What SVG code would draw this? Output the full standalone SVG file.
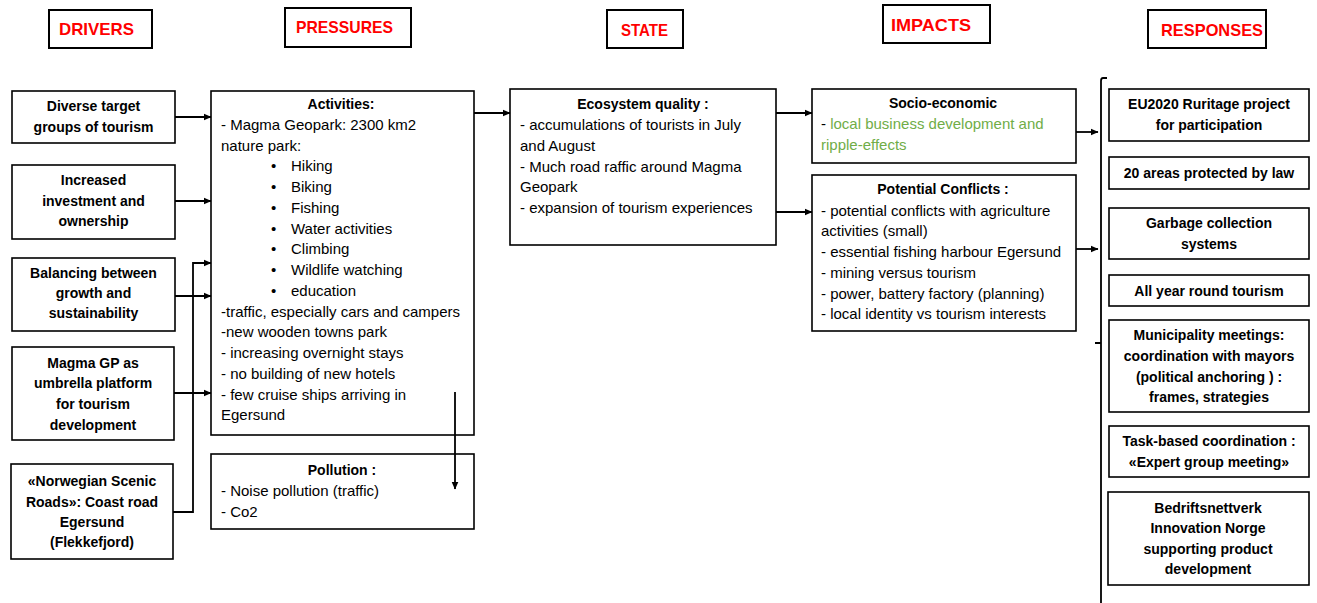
<svg xmlns="http://www.w3.org/2000/svg" width="1317" height="603" viewBox="0 0 1317 603">
<style>
.box{fill:#fff;stroke:#000;stroke-width:1.6}
.hdr{fill:#fff;stroke:#000;stroke-width:2}
.ht{font-family:"Liberation Sans",Arial,sans-serif;font-weight:bold;font-size:17px;fill:#f00}
.b{font-family:"Liberation Sans",Arial,sans-serif;font-weight:bold;font-size:14px;fill:#000;text-anchor:middle}
.t{font-family:"Liberation Sans",Arial,sans-serif;font-size:15px;fill:#000}
.g{fill:#70ad47}
.ln{fill:none;stroke:#000;stroke-width:1.8}
</style>
<defs>
<marker id="ah" markerWidth="8" markerHeight="8" refX="7.5" refY="4" orient="auto" markerUnits="userSpaceOnUse">
<path d="M0,0.5 L8,4 L0,7.5z" fill="#000"/>
</marker>
</defs>
<rect width="1317" height="603" fill="#fff"/>

<!-- column headers -->
<g id="hdr-drivers"><rect class="hdr" x="49" y="10" width="103" height="38"/><text class="ht" x="59" y="35" textLength="75" lengthAdjust="spacingAndGlyphs">DRIVERS</text></g>
<g id="hdr-pressures"><rect class="hdr" x="285" y="8" width="126" height="39"/><text class="ht" x="296" y="33" textLength="97" lengthAdjust="spacingAndGlyphs">PRESSURES</text></g>
<g id="hdr-state"><rect class="hdr" x="607" y="10" width="76" height="38"/><text class="ht" x="621" y="36" textLength="47" lengthAdjust="spacingAndGlyphs">STATE</text></g>
<g id="hdr-impacts"><rect class="hdr" x="883" y="5" width="107" height="38"/><text class="ht" x="891" y="31" textLength="80" lengthAdjust="spacingAndGlyphs">IMPACTS</text></g>
<g id="hdr-responses"><rect class="hdr" x="1148" y="10" width="118" height="38"/><text class="ht" x="1161" y="36" textLength="102" lengthAdjust="spacingAndGlyphs">RESPONSES</text></g>

<!-- drivers -->
<g id="drv-target-groups"><rect class="box" x="12" y="91" width="163" height="52"/>
<text class="b" x="93.5" y="111">Diverse target</text><text class="b" x="93.5" y="132">groups of tourism</text></g>
<g id="drv-investment"><rect class="box" x="12" y="165" width="163" height="74"/>
<text class="b" x="93.5" y="185">Increased</text><text class="b" x="93.5" y="206">investment and</text><text class="b" x="93.5" y="226">ownership</text></g>
<g id="drv-balancing"><rect class="box" x="12" y="258" width="163" height="73"/>
<text class="b" x="93.5" y="278">Balancing between</text><text class="b" x="93.5" y="298">growth and</text><text class="b" x="93.5" y="318">sustainability</text></g>
<g id="drv-magma"><rect class="box" x="12" y="347" width="162" height="93"/>
<text class="b" x="93" y="368">Magma GP as</text><text class="b" x="93" y="388">umbrella platform</text><text class="b" x="93" y="409">for tourism</text><text class="b" x="93" y="430">development</text></g>
<g id="drv-scenic-roads"><rect class="box" x="11" y="464" width="162" height="95"/>
<text class="b" x="92" y="486">«Norwegian Scenic</text><text class="b" x="92" y="507">Roads»: Coast road</text><text class="b" x="92" y="527">Egersund</text><text class="b" x="92" y="547">(Flekkefjord)</text></g>

<!-- pressures -->
<g id="prs-activities"><rect class="box" x="211" y="91" width="263" height="344"/>
<text class="b" x="341" y="109">Activities:</text>
<text class="t" x="221" y="130">- Magma Geopark: 2300 km2</text>
<text class="t" x="221" y="150.5">nature park:</text>
<g class="t">
<text x="271" y="171.2">•</text><text x="291" y="171.2">Hiking</text>
<text x="271" y="192">•</text><text x="291" y="192">Biking</text>
<text x="271" y="212.7">•</text><text x="291" y="212.7">Fishing</text>
<text x="271" y="233.5">•</text><text x="291" y="233.5">Water activities</text>
<text x="271" y="254.2">•</text><text x="291" y="254.2">Climbing</text>
<text x="271" y="275">•</text><text x="291" y="275">Wildlife watching</text>
<text x="271" y="295.7">•</text><text x="291" y="295.7">education</text>
</g>
<text class="t" x="221" y="316.5">-traffic, especially cars and campers</text>
<text class="t" x="221" y="337.2">-new wooden towns park</text>
<text class="t" x="221" y="358">- increasing overnight stays</text>
<text class="t" x="221" y="378.7">- no building of new hotels</text>
<text class="t" x="221" y="399.5">- few cruise ships arriving in</text>
<text class="t" x="221" y="420.2">Egersund</text></g>
<g id="prs-pollution"><rect class="box" x="211" y="454" width="263" height="75"/>
<text class="b" x="342" y="475">Pollution :</text>
<text class="t" x="221" y="496">- Noise pollution (traffic)</text>
<text class="t" x="221" y="516.7">- Co2</text></g>

<!-- state -->
<g id="st-ecosystem"><rect class="box" x="510" y="89" width="266" height="156"/>
<text class="b" x="643" y="109">Ecosystem quality :</text>
<text class="t" x="520" y="130">- accumulations of tourists in July</text>
<text class="t" x="520" y="150.7">and August</text>
<text class="t" x="520" y="171.5">- Much road raffic around Magma</text>
<text class="t" x="520" y="192.2">Geopark</text>
<text class="t" x="520" y="213">- expansion of tourism experiences</text></g>

<!-- impacts -->
<g id="imp-socio"><rect class="box" x="812" y="89" width="264" height="74"/>
<text class="b" x="943" y="108">Socio-economic</text>
<text class="t" x="821" y="129">- <tspan class="g">local business development and</tspan></text>
<text class="t g" x="821" y="150">ripple-effects</text></g>
<g id="imp-conflicts"><rect class="box" x="812" y="175" width="264" height="156"/>
<text class="b" x="943" y="194">Potential Conflicts :</text>
<text class="t" x="821" y="215.5">- potential conflicts with agriculture</text>
<text class="t" x="821" y="236.2">activities (small)</text>
<text class="t" x="821" y="257">- essential fishing harbour Egersund</text>
<text class="t" x="821" y="277.7">- mining  versus tourism</text>
<text class="t" x="821" y="298.5">- power, battery factory (planning)</text>
<text class="t" x="821" y="319.2">- local identity vs tourism interests</text></g>

<!-- responses -->
<g id="rsp-eu2020"><rect class="box" x="1109" y="89" width="200" height="52"/>
<text class="b" x="1209" y="109">EU2020 Ruritage project</text><text class="b" x="1209" y="130">for participation</text></g>
<g id="rsp-protected"><rect class="box" x="1109" y="157" width="200" height="32"/>
<text class="b" x="1209" y="178">20 areas protected by law</text></g>
<g id="rsp-garbage"><rect class="box" x="1109" y="208" width="200" height="51"/>
<text class="b" x="1209" y="228">Garbage collection</text><text class="b" x="1209" y="249">systems</text></g>
<g id="rsp-all-year"><rect class="box" x="1109" y="275" width="200" height="31"/>
<text class="b" x="1209" y="296">All year round tourism</text></g>
<g id="rsp-municipality"><rect class="box" x="1109" y="320" width="200" height="92"/>
<text class="b" x="1209" y="340">Municipality  meetings:</text><text class="b" x="1209" y="361">coordination with mayors</text><text class="b" x="1209" y="382">(political anchoring ) :</text><text class="b" x="1209" y="402">frames, strategies</text></g>
<g id="rsp-task-based"><rect class="box" x="1109" y="426" width="200" height="51"/>
<text class="b" x="1209" y="446">Task-based coordination :</text><text class="b" x="1209" y="467">«Expert group meeting»</text></g>
<g id="rsp-bedriftsnettverk"><rect class="box" x="1108" y="492" width="201" height="93"/>
<text class="b" x="1208" y="513">Bedriftsnettverk</text><text class="b" x="1208" y="533">Innovation Norge</text><text class="b" x="1208" y="554">supporting product</text><text class="b" x="1208" y="574">development</text></g>

<!-- connectors -->
<g id="connectors" class="ln">
<line x1="175" y1="117" x2="211" y2="117" marker-end="url(#ah)"/>
<line x1="175" y1="201" x2="211" y2="201" marker-end="url(#ah)"/>
<line x1="175" y1="296" x2="211" y2="296" marker-end="url(#ah)"/>
<line x1="174" y1="393" x2="211" y2="393" marker-end="url(#ah)"/>
<polyline points="173,512 193,512 193,263 211,263" marker-end="url(#ah)"/>
<line x1="474" y1="113" x2="510" y2="113" marker-end="url(#ah)"/>
<line x1="455" y1="392" x2="455" y2="489" marker-end="url(#ah)"/>
<line x1="776" y1="113" x2="812" y2="113" marker-end="url(#ah)"/>
<line x1="776" y1="212" x2="812" y2="212" marker-end="url(#ah)"/>
<line x1="1076" y1="132" x2="1098" y2="132" marker-end="url(#ah)"/>
<line x1="1076" y1="249" x2="1098" y2="249" marker-end="url(#ah)"/>
<path d="M1107,78 L1103,78 Q1101,78 1101,81 L1101,343 L1095,343 M1101,343 L1101,603"/>
</g>
</svg>
